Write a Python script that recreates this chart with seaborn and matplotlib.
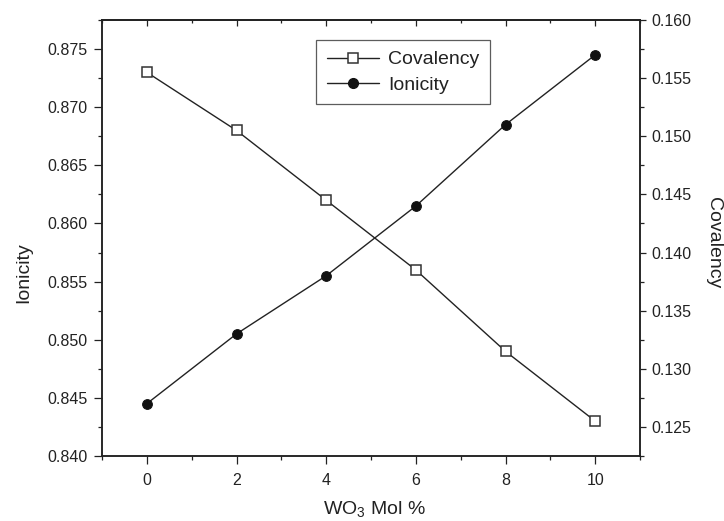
import matplotlib
matplotlib.use("Agg")
import matplotlib.pyplot as plt
import pandas as pd
import seaborn as sns
from matplotlib.ticker import MultipleLocator, FormatStrFormatter
from matplotlib.lines import Line2D

# WO3 content and the two series
wo3_mol = [0, 2, 4, 6, 8, 10]
covalency = [0.873, 0.868, 0.862, 0.856, 0.849, 0.843]
ionicity = [0.127, 0.133, 0.138, 0.144, 0.151, 0.157]

left_label = "Ionicity"
right_label = "Covalency"
x_label = r"WO$_\mathregular{3}$ Mol %"

sns.set_style("ticks")
plt.rcParams["font.family"] = ["Liberation Sans", "DejaVu Sans"]
plt.rcParams["mathtext.fontset"] = "custom"
plt.rcParams["mathtext.rm"] = "Liberation Sans"

ink = "#222222"
df = pd.DataFrame({"wo3": wo3_mol, "cov": covalency, "ion": ionicity})

fig = plt.figure(figsize=(7.24, 5.21), dpi=100)
ax = fig.add_axes([0.1409, 0.1248, 0.7431, 0.8368])
ax2 = ax.twinx()

sns.lineplot(data=df, x="wo3", y="cov", ax=ax, color=ink, lw=1.0,
             marker="s", markersize=6.5, markerfacecolor="white",
             markeredgecolor="#333333", markeredgewidth=1.1, legend=False)
sns.lineplot(data=df, x="wo3", y="ion", ax=ax2, color=ink, lw=1.0,
             marker="o", markersize=7, markerfacecolor="#111111",
             markeredgecolor="#111111", legend=False)

ax.set_xlim(-1, 11)
ax.set_ylim(0.840, 0.8775)
ax2.set_ylim(0.1225, 0.160)

ax.xaxis.set_major_locator(MultipleLocator(2))
ax.xaxis.set_minor_locator(MultipleLocator(1))
ax.yaxis.set_major_locator(MultipleLocator(0.005))
ax.yaxis.set_minor_locator(MultipleLocator(0.0025))
ax2.yaxis.set_major_locator(MultipleLocator(0.005))
ax2.yaxis.set_minor_locator(MultipleLocator(0.0025))
ax.yaxis.set_major_formatter(FormatStrFormatter("%.3f"))
ax2.yaxis.set_major_formatter(FormatStrFormatter("%.3f"))

for a in (ax, ax2):
    for s in a.spines.values():
        s.set_visible(True)
        s.set_linewidth(1.1)
        s.set_color(ink)

ax.tick_params(axis="both", which="major", direction="out", length=5.5,
               width=0.9, color=ink, labelsize=11.5, labelcolor=ink, pad=5)
ax.tick_params(axis="both", which="minor", direction="out", length=3,
               width=0.9, color=ink)
ax.tick_params(axis="x", which="major", pad=7)
ax2.tick_params(axis="y", which="major", direction="out", length=4.5,
                width=0.9, color=ink, labelsize=11.5, labelcolor=ink, pad=4)
ax2.tick_params(axis="y", which="minor", direction="out", length=3,
                width=0.9, color=ink)

# inward ticks along the top edge
top = ax.secondary_xaxis("top")
top.xaxis.set_major_locator(MultipleLocator(2))
top.xaxis.set_minor_locator(MultipleLocator(1))
top.tick_params(which="major", direction="in", length=4, width=0.9,
                color=ink, labeltop=False)
top.tick_params(which="minor", direction="in", length=2.5, width=0.9,
                color=ink, labeltop=False)
top.spines["top"].set_linewidth(1.1)
top.spines["top"].set_color(ink)

ax.set_xlabel(x_label, fontsize=14, color=ink)
ax.xaxis.set_label_coords(0.507, -0.124)
ax.xaxis.label.set_va("center")
ax.set_ylabel(left_label, fontsize=14, color=ink)
ax.yaxis.set_label_coords(-0.145, 0.42)
ax.yaxis.label.set_va("center")
ax2.set_ylabel(right_label, fontsize=14, color=ink, rotation=270)
ax2.yaxis.set_label_coords(1.136, 0.489)
ax2.yaxis.label.set_va("center")

handles = [
    Line2D([], [], color=ink, lw=1.0, marker="s", markersize=6.5,
           markerfacecolor="white", markeredgecolor="#333333",
           markeredgewidth=1.1),
    Line2D([], [], color=ink, lw=1.0, marker="o", markersize=7,
           markerfacecolor="#111111", markeredgecolor="#111111"),
]
leg = ax2.legend(handles, ["Covalency", "Ionicity"], loc="upper left",
                 bbox_to_anchor=(0.398, 0.954), borderaxespad=0,
                 fontsize=14, frameon=True, fancybox=False, shadow=False,
                 handlelength=2.7, handletextpad=0.45, labelspacing=0.4,
                 borderpad=0.55)
leg.get_frame().set_edgecolor("#333333")
leg.get_frame().set_linewidth(0.9)
for t in leg.get_texts():
    t.set_color(ink)

fig.savefig("out.png", dpi=100)
